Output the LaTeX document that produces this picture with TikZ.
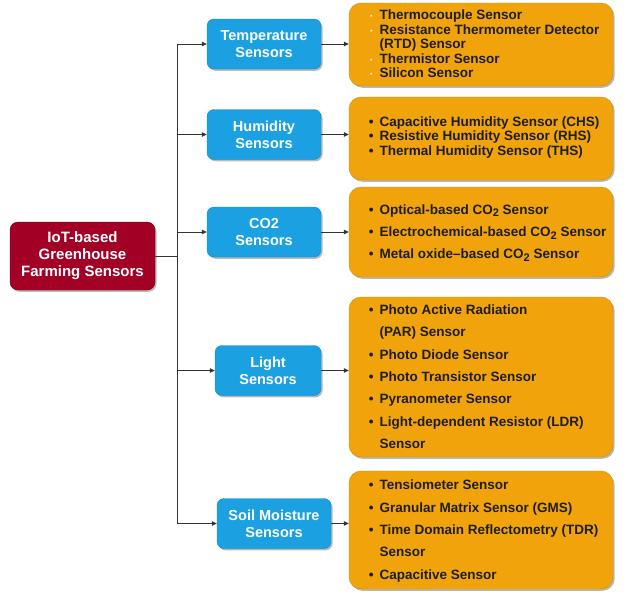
\documentclass[tikz,border=0pt]{standalone}
\usepackage{fontspec}
\setmainfont{Liberation Sans}
\usetikzlibrary{arrows.meta,shadows}
\definecolor{rootred}{HTML}{A20025}
\definecolor{rootborder}{HTML}{6F0000}
\definecolor{catblue}{HTML}{1BA1E2}
\definecolor{blueborder}{HTML}{1786BE}
\definecolor{listorange}{HTML}{F0A30A}
\definecolor{orangeborder}{HTML}{D08C06}
\definecolor{listink}{HTML}{1E1E1E}
\definecolor{linegray}{HTML}{333333}
\newcommand{\cotwo}{CO\raisebox{-2.6pt}{\fontsize{11}{11}\selectfont 2}}
\newcommand{\pdot}{\makebox[4.6pt][c]{\textcolor{white!80!listorange}{\raisebox{1pt}{\fontsize{7}{7}\selectfont\textbullet}}}}
\newcommand{\bdot}{\makebox[4.6pt][c]{\textbullet}}
\begin{document}
\begin{tikzpicture}[x=1pt,y=1pt,
  shadowed/.style={drop shadow={shadow xshift=1.6pt,shadow yshift=-1.8pt,opacity=0.28,fill=black}},
  rootbox/.style={draw=rootborder,fill=rootred,rounded corners=8pt,text=white,
    font=\bfseries\fontsize{15}{17}\selectfont,align=center,
    minimum width=145pt,minimum height=68pt,inner sep=0pt,shadowed},
  catbox/.style={draw=blueborder,fill=catblue,rounded corners=7pt,text=white,
    font=\bfseries\fontsize{14.5}{16.7}\selectfont,align=center,
    minimum height=50pt,inner sep=0pt,shadowed},
  listbox/.style={draw=orangeborder,fill=listorange,rounded corners=12pt,
    minimum width=264pt,inner sep=0pt,shadowed},
  tighttext/.style={anchor=west,inner sep=0pt,text=listink,font=\bfseries\fontsize{13.5}{14.5}\selectfont},
  looselist/.style={anchor=west,inner sep=0pt,text=listink,font=\bfseries\fontsize{13.5}{22.3}\selectfont},
  conn/.style={draw=linegray,line width=0.8pt},
  arr/.style={conn,-{Triangle[length=5pt,width=4.5pt]}}
]
\useasboundingbox (0,0) rectangle (640,-595);

% root
\node[rootbox] (root) at (82.5,-256) {IoT-based\\Greenhouse\\Farming Sensors};

% categories
\node[catbox,minimum width=114pt] (temp)  at (264,-44)    {Temperature\\Sensors};
\node[catbox,minimum width=114pt] (hum)   at (264,-134.5) {Humidity\\Sensors};
\node[catbox,minimum width=114pt] (co2)   at (264,-232)   {CO2\\Sensors};
\node[catbox,minimum width=106pt] (light) at (268,-370.5) {Light\\Sensors};
\node[catbox,minimum width=114pt] (soil)  at (274,-523.5) {Soil Moisture\\Sensors};

% lists
\node[listbox,minimum height=83pt]  (l1) at (481,-44.5) {};
\node[listbox,minimum height=83pt]  (l2) at (481,-138.5) {};
\node[listbox,minimum height=90pt]  (l3) at (481,-232) {};
\node[listbox,minimum height=160pt] (l4) at (481,-377) {};
\node[listbox,minimum height=118pt] (l5) at (481,-530) {};

\node[tighttext] (t1) at ([xshift=20pt,yshift=-1.5pt]l1.west) {\begin{tabular}{@{}l@{\hspace{6pt}}l@{}}
\pdot & Thermocouple Sensor\\
\pdot & Resistance Thermometer Detector\\
      & (RTD) Sensor\\
\pdot & Thermistor Sensor\\
\pdot & Silicon Sensor
\end{tabular}};
\node[tighttext] (t2) at ([xshift=20pt,yshift=0.5pt]l2.west) {\begin{tabular}{@{}l@{\hspace{6pt}}l@{}}
\bdot & Capacitive Humidity Sensor (CHS)\\
\bdot & Resistive Humidity Sensor (RHS)\\
\bdot & Thermal Humidity Sensor (THS)
\end{tabular}};
\node[looselist] (t3) at ([xshift=20pt]l3.west) {\begin{tabular}{@{}l@{\hspace{6pt}}l@{}}
\bdot & Optical-based \cotwo{} Sensor\\
\bdot & Electrochemical-based \cotwo{} Sensor\\
\bdot & Metal oxide--based \cotwo{} Sensor
\end{tabular}};
\node[looselist] (t4) at ([xshift=20pt]l4.west) {\begin{tabular}{@{}l@{\hspace{6pt}}l@{}}
\bdot & Photo Active Radiation\\
      & (PAR) Sensor\\
\bdot & Photo Diode Sensor\\
\bdot & Photo Transistor Sensor\\
\bdot & Pyranometer Sensor\\
\bdot & Light-dependent Resistor (LDR)\\
      & Sensor
\end{tabular}};
\node[looselist] (t5) at ([xshift=20pt]l5.west) {\begin{tabular}{@{}l@{\hspace{6pt}}l@{}}
\bdot & Tensiometer Sensor\\
\bdot & Granular Matrix Sensor (GMS)\\
\bdot & Time Domain Reflectometry (TDR)\\
      & Sensor\\
\bdot & Capacitive Sensor
\end{tabular}};

% connectors
\coordinate (trunk) at (177,-256);
\draw[conn] (root.east) -- (trunk);
\draw[conn] (trunk |- temp.west) -- (trunk |- soil.west);
\foreach \b in {temp,hum,co2,light,soil}{
  \draw[arr] (trunk |- \b.west) -- (\b.west);
}
\draw[arr] (temp.east)  -- (temp.east -| l1.west);
\draw[arr] (hum.east)   -- (hum.east -| l2.west);
\draw[arr] (co2.east)   -- (co2.east -| l3.west);
\draw[arr] (light.east) -- (light.east -| l4.west);
\draw[arr] (soil.east)  -- (soil.east -| l5.west);
\end{tikzpicture}
\end{document}
